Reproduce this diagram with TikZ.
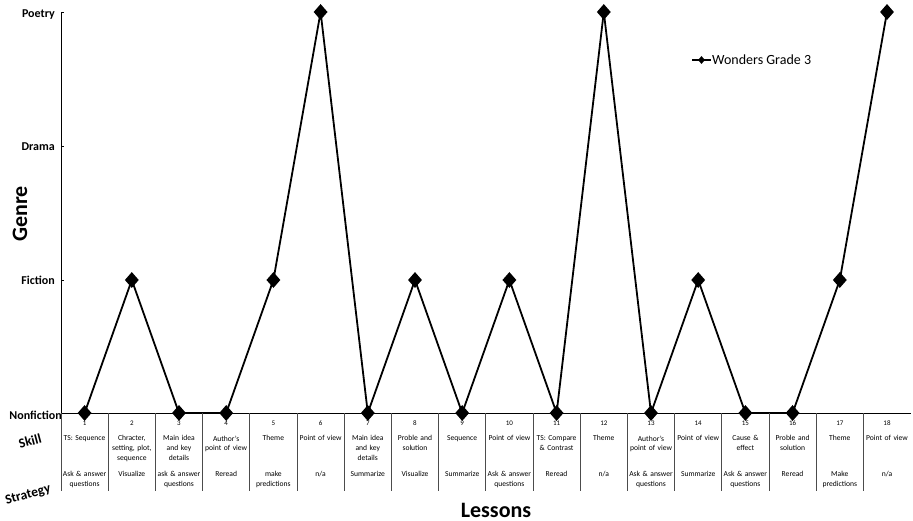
\documentclass[tikz,border=0pt]{standalone}
\usepackage{fontspec}
\setmainfont{Carlito}
\usetikzlibrary{shapes.geometric}
\pgfdeclarelayer{background}
\pgfsetlayers{background,main}
\begin{document}
\begin{tikzpicture}[x=1pt,y=-1pt,
 datamark/.style={diamond,fill=black,inner sep=0pt,minimum width=14pt,minimum height=16pt},
 legmark/.style={diamond,fill=black,inner sep=0pt,minimum width=7pt,minimum height=8pt},
 glabel/.style={anchor=east,inner sep=0pt,font=\bfseries\fontsize{12}{14}\selectfont},
 numtxt/.style={inner sep=0pt,font=\fontsize{7}{8}\selectfont},
 celltxt/.style={anchor=north,align=center,text width=47pt,inner sep=0pt,font=\fontsize{7.6}{9.8}\selectfont},
 axisline/.style={line width=0.8pt},
 sepline/.style={line width=0.8pt,black!70},
 series/.style={line width=1.8pt},
 bigtitle/.style={font=\bfseries\fontsize{22}{26}\selectfont},
 rowtitle/.style={rotate=15,font=\bfseries\fontsize{13.5}{15}\selectfont}]
\useasboundingbox (0,0) rectangle (913,521);

% axes
\coordinate (ytop) at (61,12);
\coordinate (org) at (61,413);
\coordinate (xend) at (911,413);
\draw[axisline] (ytop) -- (org) -- (xend);
\foreach \yy in {12,146,280} \draw[axisline] (61,\yy) -- (64,\yy);

% genre labels
\node[glabel] (gP) at (55,15) {Poetry};
\node[glabel] (gD) at (55,147) {Drama};
\node[glabel] (gF) at (55,280) {Fiction};
\node[glabel] (gN) at (62,415) {Nonfiction};

% titles
\node[bigtitle,rotate=90] (genre) at (20,214) {Genre};
\node[bigtitle] (lessons) at (496,510) {Lessons};
\node[rowtitle] (skill) at (30,441) {Skill};
\node[rowtitle] (strategy) at (28,495) {Strategy};

% table separators
\foreach \k in {0,...,17} \draw[sepline] ({61+47.2*\k},413) -- ({61+47.2*\k},491);

% table text
\foreach \i/\sk/\st in {
 1/{TS: Sequence}/{Ask \& answer\\questions},
 2/{Chracter,\\setting, plot,\\sequence}/{Visualize},
 3/{Main idea\\and key\\details}/{ask \& answer\\questions},
 4/{Author’s\\point of view}/{Reread},
 5/{Theme}/{make\\predictions},
 6/{Point of view}/{n/a},
 7/{Main idea\\and key\\details}/{Summarize},
 8/{Proble and\\solution}/{Visualize},
 9/{Sequence}/{Summarize},
 10/{Point of view}/{Ask \& answer\\questions},
 11/{TS: Compare\\\& Contrast}/{Reread},
 12/{Theme}/{n/a},
 13/{Author’s\\point of view}/{Ask \& answer\\questions},
 14/{Point of view}/{Summarize},
 15/{Cause \&\\effect}/{Ask \& answer\\questions},
 16/{Proble and\\solution}/{Reread},
 17/{Theme}/{Make\\predictions},
 18/{Point of view}/{n/a}} {
 \node[numtxt] (n\i) at ({61+47.2*(\i-0.5)},423.5) {\i};
 \node[celltxt] (s\i) at ({61+47.2*(\i-0.5)},435.5) {\sk};
 \node[celltxt] (t\i) at ({61+47.2*(\i-0.5)},471.5) {\st};
}

% data points
\foreach \i/\yy in {1/413,2/280,3/413,4/413,5/280,6/12,7/413,8/280,9/413,10/280,11/413,12/12,13/413,14/280,15/413,16/413,17/280,18/12}
 \node[datamark] (p\i) at ({61+47.2*(\i-0.5)},\yy) {};
\begin{pgfonlayer}{background}
\foreach \i [evaluate=\i as \j using int(\i+1)] in {1,...,17}
 \draw[series] (p\i.center) -- (p\j.center);
\end{pgfonlayer}

% legend
\coordinate (la) at (692,60);
\coordinate (lb) at (711,60);
\begin{pgfonlayer}{background}
\draw[line width=1.4pt] (la) -- (lb);
\end{pgfonlayer}
\node[legmark] (lm) at (701.5,60) {};
\node[anchor=west,inner sep=1pt,font=\fontsize{14}{16}\selectfont] (lt) at (711,60) {Wonders Grade 3};
\end{tikzpicture}
\end{document}
